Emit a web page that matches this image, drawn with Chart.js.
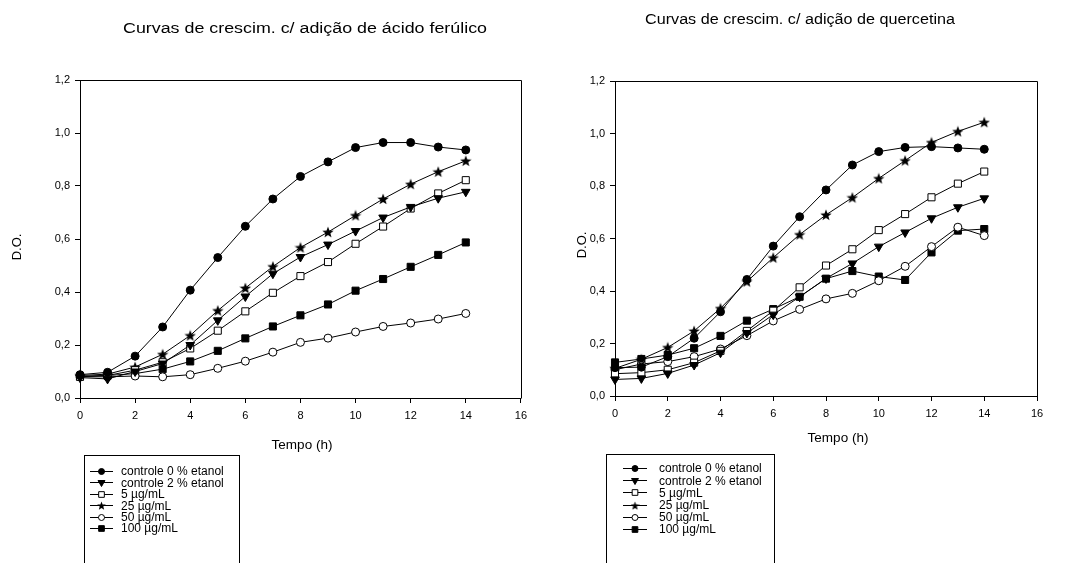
<!DOCTYPE html>
<html lang="pt">
<head>
    <meta charset="UTF-8">
    <title>Curvas de crescimento</title>
    <script src="https://cdn.jsdelivr.net/npm/chart.js"></script>
    <style>
        body {
            margin: 0;
            background: #fff;
            width: 1067px;
            height: 563px;
            overflow: hidden;
            position: relative;
        }
        canvas {
            position: absolute;
            top: 0;
        }
        #chartFerulico { left: 0; }
        #chartQuercetina { left: 533px; }
    </style>
</head>
<body>
    <canvas id="chartFerulico" width="533" height="563"></canvas>
    <canvas id="chartQuercetina" width="534" height="563"></canvas>
    <script>
        // tempo (h)
        const tempo = [0, 1, 2, 3, 4, 5, 6, 7, 8, 9, 10, 11, 12, 13, 14];
        const legendas = ['controle 0 % etanol', 'controle 2 % etanol', '5 µg/mL', '25 µg/mL', '50 µg/mL', '100 µg/mL'];
        const xTicks = [0, 2, 4, 6, 8, 10, 12, 14, 16];
        const yTicks = [0, 0.2, 0.4, 0.6, 0.8, 1.0, 1.2];

        // D.O. - ácido ferúlico
        const ferControle0 = [0.088, 0.097, 0.158, 0.268, 0.407, 0.530, 0.648, 0.751, 0.836, 0.891, 0.945, 0.964, 0.964, 0.947, 0.936];
        const ferControle2 = [0.077, 0.072, 0.100, 0.130, 0.200, 0.293, 0.383, 0.469, 0.532, 0.579, 0.630, 0.681, 0.721, 0.754, 0.778];
        const fer5 = [0.080, 0.085, 0.105, 0.135, 0.187, 0.254, 0.327, 0.397, 0.460, 0.513, 0.582, 0.647, 0.715, 0.772, 0.822];
        const fer25 = [0.085, 0.090, 0.117, 0.165, 0.236, 0.330, 0.415, 0.496, 0.568, 0.626, 0.689, 0.751, 0.807, 0.854, 0.895];
        const fer50 = [0.080, 0.080, 0.083, 0.080, 0.088, 0.112, 0.139, 0.173, 0.210, 0.226, 0.249, 0.270, 0.283, 0.298, 0.319];
        const fer100 = [0.082, 0.085, 0.092, 0.109, 0.138, 0.178, 0.225, 0.270, 0.312, 0.353, 0.405, 0.449, 0.495, 0.540, 0.587];

        // D.O. - quercetina
        const querControle0 = [0.108, 0.110, 0.150, 0.220, 0.321, 0.444, 0.571, 0.683, 0.785, 0.880, 0.931, 0.947, 0.950, 0.945, 0.940];
        const querControle2 = [0.063, 0.067, 0.086, 0.118, 0.165, 0.240, 0.310, 0.378, 0.448, 0.505, 0.569, 0.623, 0.677, 0.719, 0.753];
        const quer5 = [0.085, 0.089, 0.100, 0.127, 0.172, 0.248, 0.325, 0.414, 0.497, 0.559, 0.632, 0.693, 0.757, 0.809, 0.855];
        const quer25 = [0.105, 0.140, 0.185, 0.248, 0.334, 0.436, 0.527, 0.615, 0.690, 0.756, 0.829, 0.897, 0.966, 1.008, 1.043];
        const quer50 = [0.100, 0.122, 0.131, 0.150, 0.179, 0.230, 0.286, 0.330, 0.370, 0.391, 0.439, 0.494, 0.569, 0.643, 0.611];
        const quer100 = [0.128, 0.141, 0.156, 0.182, 0.229, 0.287, 0.331, 0.378, 0.447, 0.476, 0.455, 0.442, 0.547, 0.630, 0.636];

        const FONT = 'Arial, "Liberation Sans", sans-serif';

        // estrela cheia de 5 pontas (o 'star' do Chart.js é só um asterisco)
        function makeStar(size) {
            const c = document.createElement('canvas');
            c.width = size;
            c.height = size;
            const g = c.getContext('2d');
            const cx = size / 2, cy = size / 2 + 0.5;
            const outer = size / 2, inner = outer * 0.42;
            g.beginPath();
            for (let i = 0; i < 10; i++) {
                const r = i % 2 === 0 ? outer : inner;
                const a = -Math.PI / 2 + i * Math.PI / 5;
                const px = cx + r * Math.cos(a), py = cy + r * Math.sin(a);
                if (i === 0) g.moveTo(px, py); else g.lineTo(px, py);
            }
            g.closePath();
            g.fillStyle = '#000';
            g.fill();
            return c;
        }
        const star = makeStar(12);
        const starSmall = makeStar(9);

        // estilo dos marcadores, na ordem da legenda
        const markers = [
            { pointStyle: 'circle', radius: 4, fill: '#000', rotation: 0 },
            { pointStyle: 'triangle', radius: 5, fill: '#000', rotation: 180 },
            { pointStyle: 'rect', radius: 5, fill: '#fff', rotation: 0 },
            { pointStyle: star, radius: 6, fill: '#000', rotation: 0 },
            { pointStyle: 'circle', radius: 4, fill: '#fff', rotation: 0 },
            { pointStyle: 'rect', radius: 5, fill: '#000', rotation: 0 }
        ];

        function buildDatasets(series) {
            return series.map((values, i) => ({
                label: legendas[i],
                data: tempo.map((t, k) => ({ x: t, y: values[k] })),
                borderColor: '#000',
                borderWidth: 1,
                pointStyle: markers[i].pointStyle,
                pointRotation: markers[i].rotation,
                pointRadius: markers[i].radius,
                pointBackgroundColor: markers[i].fill,
                pointBorderColor: '#000',
                pointBorderWidth: 1,
                tension: 0,
                clip: false
            }));
        }

        // texto com largura ajustada (a figura original é levemente esticada)
        function fitText(ctx, text, cx, y, font, width) {
            ctx.save();
            ctx.font = font;
            const w = ctx.measureText(text).width;
            const sx = width ? width / w : 1;
            ctx.translate(cx, y);
            ctx.scale(sx, 1);
            ctx.textAlign = 'center';
            ctx.textBaseline = 'alphabetic';
            ctx.fillText(text, 0, 0);
            ctx.restore();
        }

        function drawMarker(ctx, m, x, y) {
            ctx.save();
            ctx.fillStyle = m.fill;
            ctx.strokeStyle = '#000';
            ctx.lineWidth = 1;
            Chart.helpers.drawPoint(ctx, {
                pointStyle: m.pointStyle === star ? starSmall : m.pointStyle,
                rotation: m.rotation,
                radius: m.radius,
                borderWidth: 1
            }, x, y);
            ctx.restore();
        }

        // moldura, títulos e legenda em caixa
        const decorPlugin = {
            id: 'decor',
            afterDraw(chart, args, o) {
                const ctx = chart.ctx;
                const a = chart.chartArea;
                ctx.save();
                ctx.strokeStyle = '#000';
                ctx.lineWidth = 1;
                ctx.beginPath();
                ctx.moveTo(Math.round(a.left) + 0.5, Math.round(a.top) + 0.5);
                ctx.lineTo(Math.round(a.right) + 0.5, Math.round(a.top) + 0.5);
                ctx.lineTo(Math.round(a.right) + 0.5, Math.round(a.bottom) + 0.5);
                ctx.stroke();

                ctx.fillStyle = '#000';
                fitText(ctx, o.title, o.titleX, o.titleY, '14px ' + FONT, o.titleW);
                fitText(ctx, 'Tempo (h)', o.xLabelX, o.xLabelY, '13.5px ' + FONT);

                ctx.save();
                ctx.translate(o.yLabelX, o.yLabelY);
                ctx.rotate(-Math.PI / 2);
                ctx.font = '13px ' + FONT;
                ctx.textAlign = 'center';
                ctx.textBaseline = 'middle';
                ctx.fillText('D.O.', 0, 0);
                ctx.restore();

                // legenda
                const lg = o.legend;
                ctx.strokeRect(lg.x + 0.5, lg.y + 0.5, lg.w, 200);
                ctx.font = '12px ' + FONT;
                ctx.textAlign = 'left';
                ctx.textBaseline = 'middle';
                legendas.forEach((txt, i) => {
                    const y = lg.rowY + i * lg.rowH;
                    ctx.beginPath();
                    ctx.moveTo(lg.lineX0, Math.round(y) + 0.5);
                    ctx.lineTo(lg.lineX1, Math.round(y) + 0.5);
                    ctx.stroke();
                    drawMarker(ctx, { ...markers[i], radius: markers[i].radius - 1 }, (lg.lineX0 + lg.lineX1) / 2, Math.round(y) + 0.5);
                    ctx.fillStyle = '#000';
                    ctx.fillText(txt, lg.textX, y + 1);
                });
                ctx.restore();
            }
        };

        function makeChart(id, series, cfg) {
            return new Chart(document.getElementById(id), {
                type: 'line',
                data: { datasets: buildDatasets(series) },
                plugins: [decorPlugin],
                options: {
                    responsive: false,
                    animation: false,
                    events: [],
                    layout: { padding: { left: 0, top: cfg.top, right: cfg.right, bottom: 0 } },
                    plugins: {
                        legend: { display: false },
                        title: { display: false },
                        tooltip: { enabled: false },
                        decor: cfg.decor
                    },
                    scales: {
                        x: {
                            type: 'linear',
                            min: 0,
                            max: 16,
                            afterFit: s => { s.height = cfg.xAxisH; },
                            afterBuildTicks: s => { s.ticks = xTicks.map(v => ({ value: v })); },
                            ticks: {
                                color: '#000',
                                font: { family: FONT, size: 11 },
                                padding: 6,
                                maxRotation: 0
                            },
                            grid: { drawOnChartArea: false, drawTicks: true, tickLength: 5, color: '#000' },
                            border: { display: true, color: '#000', width: 1 }
                        },
                        y: {
                            type: 'linear',
                            min: 0,
                            max: 1.2,
                            afterFit: s => { s.width = cfg.yAxisW; },
                            afterBuildTicks: s => { s.ticks = yTicks.map(v => ({ value: v })); },
                            ticks: {
                                color: '#000',
                                font: { family: FONT, size: 11 },
                                padding: 5,
                                callback: v => v.toFixed(1).replace('.', ',')
                            },
                            grid: { drawOnChartArea: false, drawTicks: true, tickLength: 5, color: '#000' },
                            border: { display: true, color: '#000', width: 1 }
                        }
                    }
                }
            });
        }

        makeChart('chartFerulico', [ferControle0, ferControle2, fer5, fer25, fer50, fer100], {
            top: 80, right: 11, xAxisH: 165, yAxisW: 80,
            decor: {
                title: 'Curvas de crescim. c/ adição de ácido ferúlico',
                titleX: 305, titleY: 33, titleW: 364,
                xLabelX: 302, xLabelY: 449,
                yLabelX: 17, yLabelY: 247,
                legend: { x: 84, y: 455, w: 155, rowY: 471, rowH: 11.4, lineX0: 90, lineX1: 113, textX: 121 }
            }
        });

        makeChart('chartQuercetina', [querControle0, querControle2, quer5, quer25, quer50, quer100], {
            top: 81, right: 30, xAxisH: 167, yAxisW: 82,
            decor: {
                title: 'Curvas de crescim. c/ adição de quercetina',
                titleX: 267, titleY: 24, titleW: 310,
                xLabelX: 305, xLabelY: 442,
                yLabelX: 49, yLabelY: 245,
                legend: { x: 73, y: 454, w: 168, rowY: 468, rowH: 12.2, lineX0: 90, lineX1: 114, textX: 126 }
            }
        });
    </script>
</body>
</html>
